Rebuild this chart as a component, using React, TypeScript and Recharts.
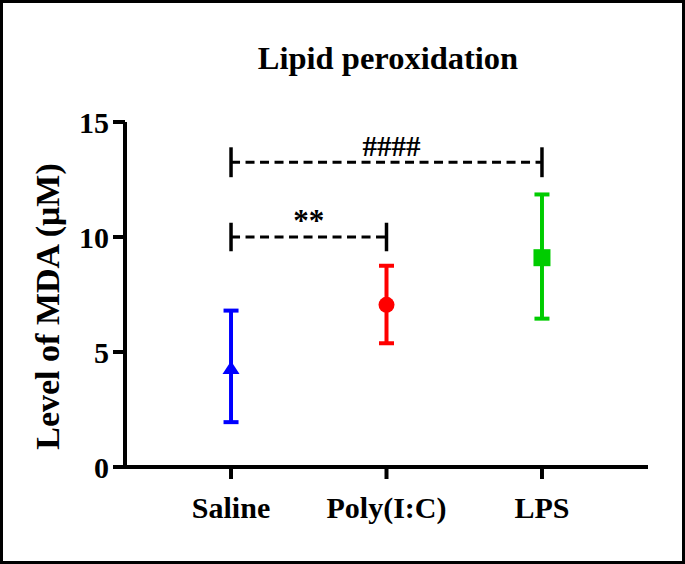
import React from "react";
import { ComposedChart, Scatter, XAxis, YAxis, ErrorBar, ReferenceLine } from "recharts";

const groups = ["Saline", "Poly(I:C)", "LPS"];
const means = [4.3, 7.05, 9.1];
const lowers = [1.95, 5.38, 6.45];
const uppers = [6.8, 8.75, 11.85];
const colors = ["#0000FF", "#FF0000", "#00CC00"];
const yTicks = [0, 5, 10, 15];

// significance brackets
const sigFrom = [1, 1];
const sigTo = [2, 3];
const sigY = [10, 13.25];
const sigCapLow = [9.38, 12.6];
const sigCapHigh = [10.62, 13.9];
const sigText = ["**", "####"];

const FONT = "'Liberation Serif', 'Times New Roman', serif";

const series = groups.map((g, i) => [
  { x: i + 1, mean: means[i], err: [means[i] - lowers[i], uppers[i] - means[i]] },
]);

const TriangleShape = (p: any) => (
  <polygon
    points={`${p.cx},${p.cy - 7} ${p.cx - 8.5},${p.cy + 6} ${p.cx + 8.5},${p.cy + 6}`}
    fill={colors[0]}
  />
);
const CircleShape = (p: any) => <circle cx={p.cx} cy={p.cy} r={8} fill={colors[1]} />;
const SquareShape = (p: any) => (
  <rect x={p.cx - 8.5} y={p.cy - 8.5} width={17} height={17} fill={colors[2]} />
);
const shapes = [TriangleShape, CircleShape, SquareShape];

const YLabel = ({ viewBox }: any) => {
  const cx = 59;
  const cy = viewBox.y + viewBox.height / 2 + 12;
  return (
    <text
      x={cx}
      y={cy}
      transform={`rotate(-90 ${cx} ${cy})`}
      textAnchor="middle"
      fontFamily={FONT}
      fontWeight="bold"
      fontSize={34}
      fill="#000"
    >
      Level of MDA (μM)
    </text>
  );
};

export default function App() {
  const tickStyle = { fill: "#000", fontSize: 30, fontWeight: "bold", fontFamily: FONT };
  return (
    <div
      style={{
        position: "absolute",
        left: 0,
        top: 0,
        width: 685,
        height: 564,
        border: "3px solid #000",
        boxSizing: "border-box",
        background: "#fff",
      }}
    >
      <div
        style={{
          position: "absolute",
          left: 0,
          top: 37,
          width: 770,
          textAlign: "center",
          fontFamily: FONT,
          fontWeight: "bold",
          fontSize: 32.5,
          lineHeight: "normal",
          color: "#000",
        }}
      >
        Lipid peroxidation
      </div>
      <div style={{ position: "absolute", left: -3, top: -3 }}>
        <ComposedChart width={685} height={564} margin={{ top: 122, right: 37, left: 0, bottom: 0 }}>
          <XAxis
            dataKey="x"
            type="number"
            domain={[0.318, 3.682]}
            ticks={[1, 2, 3]}
            tickFormatter={(v: number) => groups[v - 1]}
            allowDataOverflow
            height={97}
            tickSize={12}
            tickMargin={18}
            axisLine={{ stroke: "#000", strokeWidth: 4 }}
            tickLine={{ stroke: "#000", strokeWidth: 4 }}
            tick={tickStyle}
          />
          <YAxis
            type="number"
            domain={[0, 15]}
            ticks={yTicks}
            allowDataOverflow
            width={125}
            tickSize={12}
            tickMargin={4}
            axisLine={{ stroke: "#000", strokeWidth: 4 }}
            tickLine={{ stroke: "#000", strokeWidth: 4 }}
            tick={tickStyle}
            label={YLabel}
          />
          {sigY.map((y, i) => (
            <ReferenceLine
              key={`s${i}`}
              segment={[
                { x: sigFrom[i], y },
                { x: sigTo[i], y },
              ]}
              stroke="#000"
              strokeWidth={3}
              strokeDasharray="9 5.5"
              label={{
                value: sigText[i],
                position: "top",
                offset: 6,
                dx: i === 1 ? 5 : 0,
                fill: "#000",
                fontSize: i === 1 ? 29 : 31,
                fontWeight: "bold",
                fontFamily: FONT,
              }}
            />
          ))}
          {sigY.map((y, i) =>
            [sigFrom[i], sigTo[i]].map((x) => (
              <ReferenceLine
                key={`c${i}-${x}`}
                segment={[
                  { x, y: sigCapLow[i] },
                  { x, y: sigCapHigh[i] },
                ]}
                stroke="#000"
                strokeWidth={3.5}
              />
            ))
          )}
          {series.map((d, i) => (
            <Scatter
              key={groups[i]}
              data={d}
              dataKey="mean"
              shape={shapes[i]}
              isAnimationActive={false}
            >
              <ErrorBar
                dataKey="err"
                direction="y"
                width={7.5}
                stroke={colors[i]}
                strokeWidth={4}
              />
            </Scatter>
          ))}
        </ComposedChart>
      </div>
    </div>
  );
}
